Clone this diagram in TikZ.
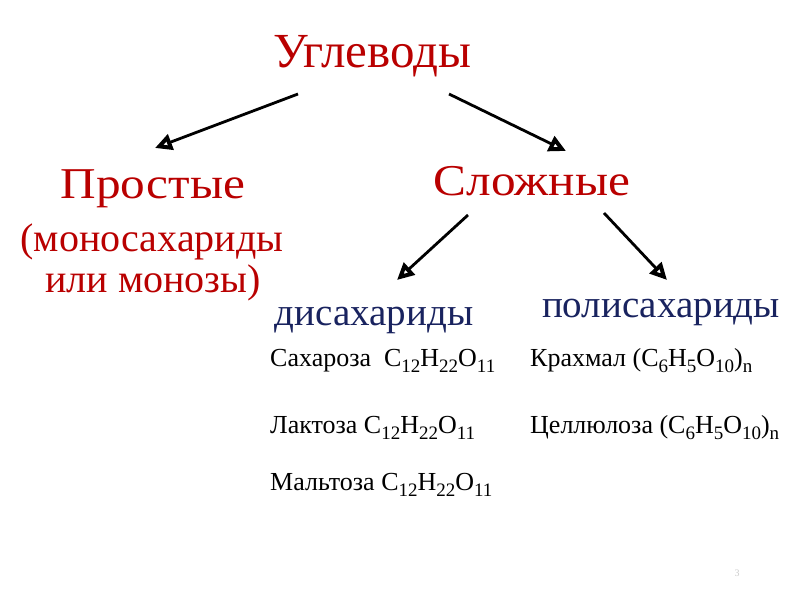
\documentclass[tikz,border=0pt]{standalone}
\usepackage{fontspec}
\usepackage{graphicx}
\setmainfont{Liberation Serif}
\usetikzlibrary{arrows.meta}
\definecolor{tred}{RGB}{185,0,0}
\definecolor{tblue}{RGB}{25,35,95}
\newcommand\sbs[1]{\raisebox{-6pt}{\fontsize{19}{19}\selectfont #1}}
\newcommand\widetxt[1]{\scalebox{1.12}[1]{#1}}
\tikzset{
  big/.style={anchor=base, text=tred, font=\fontsize{49}{52}\selectfont, inner sep=0pt},
  head/.style={anchor=base, text=tred, font=\fontsize{44}{48}\selectfont, inner sep=0pt},
  mid/.style={anchor=base, text=tred, font=\fontsize{40}{44}\selectfont, inner sep=0pt},
  sub/.style={anchor=base, text=tblue, font=\fontsize{39}{42}\selectfont, inner sep=0pt},
  item/.style={anchor=base west, text=black, font=\fontsize{26}{29}\selectfont, inner sep=0pt},
  arr/.style={line width=2.8pt, -{Triangle[open,length=17pt,width=16pt,line width=4pt]}}
}
\begin{document}
\begin{tikzpicture}[x=1pt,y=-1pt]
\useasboundingbox (0,0) rectangle (800,600);
\node[big] (ugl) at (372,67) {Углеводы};
\node[head] (pro) at (153,198) {\widetxt{Простые}};
\node[mid] (mono) at (152,251) {(моносахариды};
\node[mid] (ili) at (153,292) {или монозы)};
\node[head] (slo) at (532,195) {\widetxt{Сложные}};
\node[sub] (dis) at (374,325) {дисахариды};
\node[sub] (pol) at (661,317) {полисахариды};
\node[item] (sah) at (270,366) {Сахароза\ \ C\sbs{12}H\sbs{22}O\sbs{11}};
\node[item] (lak) at (270,433) {Лактоза C\sbs{12}H\sbs{22}O\sbs{11}};
\node[item] (mal) at (270,490) {Мальтоза C\sbs{12}H\sbs{22}O\sbs{11}};
\node[item] (kra) at (530,366) {Крахмал (C\sbs{6}H\sbs{5}O\sbs{10})\sbs{n}};
\node[item] (cel) at (530,433) {Целлюлоза (C\sbs{6}H\sbs{5}O\sbs{10})\sbs{n}};
\node[anchor=base, text=black!20, font=\fontsize{10}{12}\selectfont, inner sep=0pt] (num) at (737,576) {3};
\coordinate (a1s) at (298,94);  \coordinate (a1e) at (155,148);
\coordinate (a2s) at (449,94);  \coordinate (a2e) at (566,151);
\coordinate (a3s) at (468,215); \coordinate (a3e) at (397,280);
\coordinate (a4s) at (604,213); \coordinate (a4e) at (667,280);
\draw[arr] (a1s) -- (a1e);
\draw[arr] (a2s) -- (a2e);
\draw[arr] (a3s) -- (a3e);
\draw[arr] (a4s) -- (a4e);
\end{tikzpicture}
\end{document}
